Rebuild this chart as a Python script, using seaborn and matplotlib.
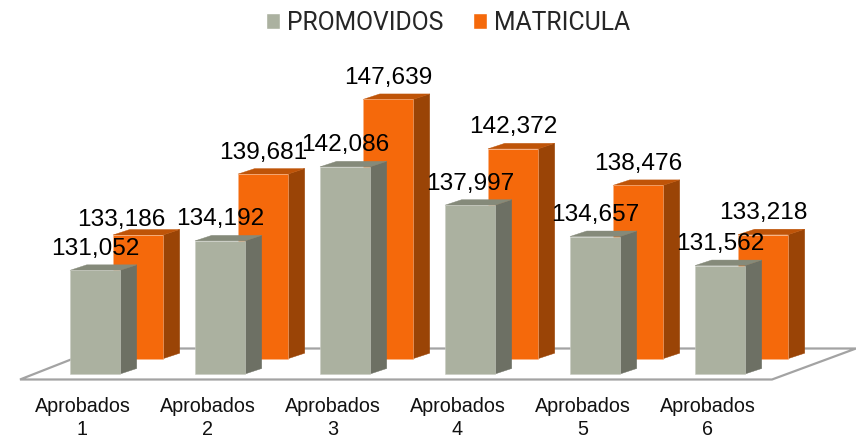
"""
Promovidos vs matricula, fake 3D bars drawn on top of a seaborn barplot
"""

import matplotlib
matplotlib.use("Agg")
import matplotlib.pyplot as plt
import pandas as pd
import seaborn as sns
from matplotlib.patches import Polygon

# -------------------------
# Data
# -------------------------
categories = ["Aprobados\n1", "Aprobados\n2", "Aprobados\n3",
              "Aprobados\n4", "Aprobados\n5", "Aprobados\n6"]
promovidos = [131052, 134192, 142086, 137997, 134657, 131562]
matricula = [133186, 139681, 147639, 142372, 138476, 133218]
series_names = ["PROMOVIDOS", "MATRICULA"]

# -------------------------
# Style / layout (all in pixels of the 856x438 picture)
# -------------------------
W, H = 856, 438
AXES_BOTTOM_PX = 380
GROUP_PX = 125
FIRST_CENTER_PX = 95
BAR_PX = 50
BASE_VALUE = 120000
PX_PER_UNIT = 0.00938
BASE_PX = 374
DEPTH_X, DEPTH_Y = 16.7, 5.5
BACK_X, BACK_Y = 43, 15.3

face = {"PROMOVIDOS": "#ABB1A0", "MATRICULA": "#F5690B"}
side = {"PROMOVIDOS": "#6D7064", "MATRICULA": "#9A4406"}
top = {"PROMOVIDOS": "#858A7A", "MATRICULA": "#BF5408"}
edge = {"PROMOVIDOS": "#C9CCC2", "MATRICULA": "#F8B588"}
label_font = "Liberation Sans"
text_font = "Roboto"


def dx(px):
    return px / GROUP_PX


def dy(px):
    return px / PX_PER_UNIT


df = pd.DataFrame({
    "grupo": categories * 2,
    "serie": [series_names[0]] * 6 + [series_names[1]] * 6,
    "alumnos": promovidos + matricula,
})

sns.set_theme(style="white")
fig = plt.figure(figsize=(W / 100, H / 100), dpi=100)
ax = fig.add_axes([0, (H - AXES_BOTTOM_PX) / H, 1, AXES_BOTTOM_PX / H])

sns.barplot(
    data=df, x="grupo", y="alumnos", hue="serie",
    hue_order=series_names, palette=face, saturation=1,
    dodge=False, width=BAR_PX / GROUP_PX, gap=0, ax=ax,
)

ax.set_xlim(-dx(FIRST_CENTER_PX), dx(W - FIRST_CENTER_PX))
ax.set_ylim(BASE_VALUE - dy(AXES_BOTTOM_PX - BASE_PX), BASE_VALUE + dy(BASE_PX))

# -------------------------
# Floor
# -------------------------
x_l = dx(20 - FIRST_CENTER_PX)
x_r = dx(772 - FIRST_CENTER_PX)
x_far_l = dx(99 - FIRST_CENTER_PX)
x_far_r = dx(856 - FIRST_CENTER_PX)
y_near = BASE_VALUE - dy(379.5 - BASE_PX)
y_far = BASE_VALUE + dy(BASE_PX - 348.5)
ax.add_patch(Polygon(
    [(x_l, y_near), (x_r, y_near), (x_far_r, y_far), (x_far_l, y_far)],
    closed=True, facecolor="white", edgecolor="#A3A3A3", linewidth=1.6,
    zorder=1, clip_on=False,
))

# -------------------------
# Turn the flat bars into boxes
# -------------------------
for name, container in zip(series_names, ax.containers):
    is_back = name == "MATRICULA"
    z = 2 if is_back else 3
    shift_x = dx(BACK_X) if is_back else 0
    base = BASE_VALUE + dy(BACK_Y) if is_back else BASE_VALUE
    values = matricula if is_back else promovidos

    for bar, value in zip(container.patches, values):
        bar.set_x(bar.get_x() + shift_x)
        # the back row sits higher on the floor but keeps the same scale
        bar.set_y(base)
        bar.set_height(value - BASE_VALUE)
        bar.set_edgecolor(edge[name])
        bar.set_linewidth(0.4)
        bar.set_zorder(z + 0.2)

        x0, x1 = bar.get_x(), bar.get_x() + bar.get_width()
        y0, y1 = bar.get_y(), bar.get_y() + bar.get_height()
        off_x, off_y = dx(DEPTH_X), dy(DEPTH_Y)
        ax.add_patch(Polygon(
            [(x1, y0), (x1 + off_x, y0 + off_y), (x1 + off_x, y1 + off_y), (x1, y1)],
            closed=True, facecolor=side[name], edgecolor=side[name],
            linewidth=0.3, zorder=z,
        ))
        ax.add_patch(Polygon(
            [(x0, y1), (x1, y1), (x1 + off_x, y1 + off_y), (x0 + off_x, y1 + off_y)],
            closed=True, facecolor=top[name], edgecolor=top[name],
            linewidth=0.3, zorder=z,
        ))

# -------------------------
# Value labels
# -------------------------
for name, container in zip(series_names, ax.containers):
    values = matricula if name == "MATRICULA" else promovidos
    for i, (bar, value) in enumerate(zip(container.patches, values)):
        off = (0, 21.5)
        # the first orange label was dragged left in the original
        if name == "MATRICULA" and i == 0:
            off = (-17, 15.5)
        ax.annotate(
            f"{value:,}",
            (bar.get_x() + bar.get_width() / 2, bar.get_y() + bar.get_height()),
            xytext=(off[0] * 0.72, off[1] * 0.72), textcoords="offset points",
            ha="center", va="center", fontsize=17.6, color="black",
            family=label_font, zorder=6,
        )

# -------------------------
# Axis text and legend
# -------------------------
ax.set_xticks([i - dx(12.5) for i in range(len(categories))])
ax.set_xticklabels(categories, fontsize=14.2, family=label_font, color="#111111",
                   linespacing=1.3)
ax.tick_params(axis="x", length=0, pad=12)
ax.set_yticks([])
ax.set_xlabel("")
ax.set_ylabel("")
sns.despine(ax=ax, left=True, bottom=True)

sns.move_legend(
    ax, "upper left", bbox_to_anchor=(266 / W, 0.972), ncols=2, title=None,
    frameon=False, handlelength=0.57, handleheight=0.57,
    handletextpad=0.28, columnspacing=1.2, borderaxespad=0, borderpad=0,
    prop={"family": text_font, "size": 17.8},
)

fig.savefig("out.png", dpi=100)
